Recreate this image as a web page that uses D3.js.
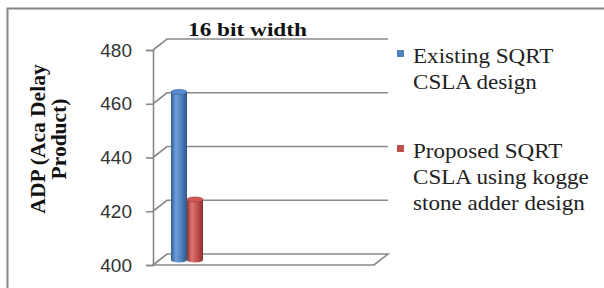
<!DOCTYPE html>
<html>
<head>
<meta charset="utf-8">
<script src="https://cdn.jsdelivr.net/npm/d3@7"></script>
<style>
  body { margin: 0; background: #fff; }
  svg { display: block; }
</style>
</head>
<body>
<div id="chart"></div>
<script>
var title = '16 bit width';
var series = ['Existing SQRT CSLA design', 'Proposed SQRT CSLA using kogge stone adder design'];
var legendLines = [
  ['Existing SQRT', 'CSLA design'],
  ['Proposed SQRT', 'CSLA using kogge', 'stone adder design']
];
var values = [462.5, 422.5];
var colors = ['#4f81bd', '#c0504d'];
var yTicks = [400, 420, 440, 460, 480];
var yTitle = ['ADP (Aca Delay', 'Product)'];

var W = 604, H = 288;
var svg = d3.select('#chart').append('svg')
    .attr('width', W)
    .attr('height', H);

// outer chart border
svg.append('rect')
    .attr('x', 7.5).attr('y', 8.5)
    .attr('width', 640).attr('height', 320)
    .attr('fill', 'none')
    .attr('stroke', '#858585')
    .attr('stroke-width', 2);

// plot frame (front face + depth offset)
var left = 153, right = 374, dx = 14, dy = -11;
var y = d3.scaleLinear().domain([400, 480]).range([265, 50]);
var x = d3.scaleBand().domain(series).range([left + 18, left + 50]).padding(0);

var defs = svg.append('defs');
var shades = [
  ['#2e5b91', '#6d9ddb', '#4f81bd', '#2c5686'],
  ['#8f3431', '#dc7572', '#c0504d', '#8a302d']
];
shades.forEach(function(s, i) {
  var g = defs.append('linearGradient').attr('id', 'cyl' + i)
      .attr('x1', 0).attr('x2', 1).attr('y1', 0).attr('y2', 0);
  g.append('stop').attr('offset', '0%').attr('stop-color', s[0]);
  g.append('stop').attr('offset', '30%').attr('stop-color', s[1]);
  g.append('stop').attr('offset', '65%').attr('stop-color', s[2]);
  g.append('stop').attr('offset', '100%').attr('stop-color', s[3]);
});

// back-wall gridlines with the 3D step
var grid = svg.append('g')
    .attr('fill', 'none')
    .attr('stroke', '#8a8a8a')
    .attr('stroke-width', 1.6);
grid.selectAll('path.grid')
  .data(yTicks.slice(1))
  .enter().append('path')
    .attr('class', 'grid')
    .attr('d', function(d) {
      var yy = y(d);
      return 'M' + left + ',' + yy + 'L' + (left + dx) + ',' + (yy + dy) + 'H' + (right + dx);
    });

// floor
grid.append('path')
    .attr('d', 'M' + left + ',' + y(400) + 'L' + (left + dx) + ',' + (y(400) + dy) +
      'H' + (right + dx) + 'L' + right + ',' + y(400) + 'Z');

// y axis
var yAxis = svg.append('g')
    .attr('transform', 'translate(' + left + ',0)')
    .call(d3.axisLeft(y).tickValues(yTicks).tickSize(7).tickPadding(14));
yAxis.select('.domain').attr('stroke', '#8a8a8a').attr('stroke-width', 1.6);
yAxis.selectAll('.tick line').attr('stroke', '#8a8a8a').attr('stroke-width', 1.6);
yAxis.selectAll('.tick text')
    .attr('font-family', 'Liberation Sans, Arial, sans-serif')
    .attr('font-size', 19)
    .attr('fill', '#333');

// cylinders
var yb = d3.scaleLinear().domain([400, 480]).range([y(400) - 5, y(480) - 5]);
var bars = svg.append('g').selectAll('g.bar')
  .data(values)
  .enter().append('g').attr('class', 'bar');
bars.append('rect')
    .attr('x', function(d, i) { return x(series[i]); })
    .attr('y', function(d) { return yb(d); })
    .attr('width', x.bandwidth())
    .attr('height', function(d) { return yb(400) - yb(d); })
    .attr('fill', function(d, i) { return 'url(#cyl' + i + ')'; });
bars.append('ellipse')
    .attr('cx', function(d, i) { return x(series[i]) + x.bandwidth() / 2; })
    .attr('cy', yb(400))
    .attr('rx', x.bandwidth() / 2)
    .attr('ry', 2.5)
    .attr('fill', function(d, i) { return 'url(#cyl' + i + ')'; });
bars.append('ellipse')
    .attr('cx', function(d, i) { return x(series[i]) + x.bandwidth() / 2; })
    .attr('cy', function(d) { return yb(d); })
    .attr('rx', x.bandwidth() / 2)
    .attr('ry', 2.5)
    .attr('fill', function(d, i) { return d3.color(colors[i]).brighter(0.25); })
    .attr('stroke', function(d, i) { return d3.color(colors[i]).darker(0.5); })
    .attr('stroke-width', 0.8);

// title
svg.append('text')
    .attr('x', 188).attr('y', 36)
    .attr('textLength', 119)
    .attr('lengthAdjust', 'spacingAndGlyphs')
    .attr('font-family', 'Liberation Serif, Times New Roman, serif')
    .attr('font-weight', 'bold')
    .attr('font-size', 19)
    .attr('fill', '#111')
    .text(title);

// y axis title
var yt = svg.append('text')
    .attr('transform', 'translate(45,139) rotate(-90)')
    .attr('text-anchor', 'middle')
    .attr('font-family', 'Liberation Serif, Times New Roman, serif')
    .attr('font-weight', 'bold')
    .attr('font-size', 21.5)
    .attr('fill', '#111');
yt.selectAll('tspan')
  .data(yTitle)
  .enter().append('tspan')
    .attr('x', 0)
    .attr('dy', function(d, i) { return i ? 21 : 0; })
    .text(function(d) { return d; });

// legend
var legTop = [50, 145];
var leg = svg.append('g').selectAll('g.leg')
  .data(legendLines)
  .enter().append('g').attr('class', 'leg')
    .attr('transform', function(d, i) { return 'translate(397,' + legTop[i] + ')'; });
leg.append('rect')
    .attr('width', 7).attr('height', 7)
    .attr('fill', function(d, i) { return colors[i]; });
leg.selectAll('text')
  .data(function(d) { return d; })
  .enter().append('text')
    .attr('transform', function(d, j) { return 'translate(16,' + (13 + j * 26) + ') scale(1.1,1)'; })
    .attr('font-family', 'Liberation Serif, Times New Roman, serif')
    .attr('font-size', 21)
    .attr('fill', '#222')
    .text(function(d) { return d; });
</script>
</body>
</html>
